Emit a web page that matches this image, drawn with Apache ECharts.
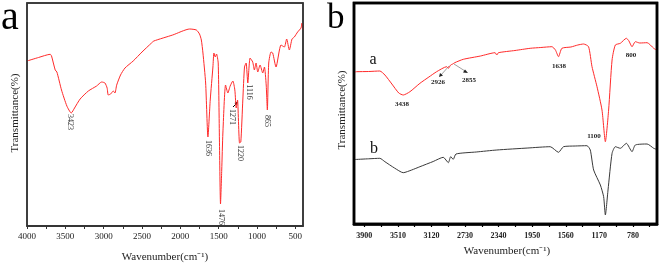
<!DOCTYPE html>
<html><head><meta charset="utf-8">
<script src="https://cdn.jsdelivr.net/npm/echarts@6/dist/echarts.min.js"></script>
<style>html,body{margin:0;padding:0;background:#fff}#c{width:661px;height:265px}</style>
</head><body><div id="c"></div>
<script>
// Panel a spectrum (wavenumber, transmittance in arbitrary units)
const waveA = [4000,3850,3697,3680,3632,3610,3550,3480,3423,3380,3307,3200,3092,3026,2983,2955,2940,2909,2875,2853,2830,2780,2722,2615,2500,2376,2346,2100,1878,1791,1750,1726,1705,1670,1640,1610,1575,1562,1545,1528,1506,1490,1476,1460,1445,1410,1380,1350,1315,1289,1271,1254,1228,1211,1185,1163,1142,1120,1090,1056,1034,1012,990,960,925,903,880,865,847,817,795,752,687,643,613,578,543,513,470,426,413,400];
const transA = [165,168.5,171.7,170,156,154,136,120,113,118,127,135,140,144,143,138,131,132,135,133,141,151,158,165,174,183,185,191,197,196,192,186,173,143,89,126,159,173,169,172,163,86,22,56,93,141,133,140,145,136,118,126,83,84,126,159,163,143,168,164,156,163,154,161,153,159,141,116,163,174,173,159,181,179,187,176,187,189,194,198,203,196];
// Panel b spectra
const waveB1 = [4010,3991,3850,3720,3661,3580,3500,3448,3370,3254,3150,3060,2943,2924,2897,2873,2850,2750,2550,2381,2361,2342,2150,1973,1850,1721,1680,1644,1605,1500,1420,1353,1295,1255,1197,1139,1100,1062,1022,984,926,856,828,790,752,700,615,538,507];
const transB1 = [152,152.3,152.5,153,149,140,131,129,132.3,140.7,147,152.3,157.3,155.7,159,160,161.3,164.7,168,171.3,169,171.3,173.5,175.7,176.5,177.3,174,167.3,175.7,177,179,180,177.3,157.3,137.3,114,82.3,114,164,179,180.7,185.7,183.3,177.3,182.3,181,181.3,175.7,174];
const waveB2 = [4010,3850,3720,3661,3550,3448,3350,3254,3100,2983,2924,2897,2867,2835,2600,2361,2000,1741,1644,1586,1450,1314,1275,1236,1158,1120,1100,1069,1022,984,926,856,790,752,615,538,507];
const transB2 = [64.5,65.2,65.7,62.3,56,51.3,54,57.3,62.5,66.7,61.3,67.3,64.7,70,72,74,76,77.3,71.7,77.3,78,78.3,74,54,39,27.3,9,34,70.7,77.3,75.7,80.7,72.3,79,80,75.7,74.7];
// Axis ticks and labels
const labelsA = [4000,3500,3000,2500,2000,1500,1000,500];
const ticksA = [4000,3750,3500,3250,3000,2750,2500,2250,2000,1750,1500,1250,1000,750,500];
const labelsB = [3900,3510,3120,2730,2340,1950,1560,1170,780];
const ticksB = [3900,3705,3510,3315,3120,2925,2730,2535,2340,2145,1950,1755,1560,1365,1170,975,780,585];
const peaksA = ['3423','1636','1476','1271','1220','1116','865'];

const zip = (w,t) => w.map((v,i)=>[v,t[i]]);
const serif = 'Liberation Serif';
const chart = echarts.init(document.getElementById('c'), null, {renderer:'canvas'});

function txt(x,y,s,opt){
  return {type:'text',x:x,y:y,style:Object.assign({text:s,fill:'#222',font:'8px '+serif,align:'center',verticalAlign:'middle'},opt||{})};
}
function rtxt(x,y,s){
  return {type:'text',x:x,y:y,rotation:-Math.PI/2,style:{text:s,fill:'#333',font:'8px '+serif,align:'center',verticalAlign:'middle'}};
}

const option = {
  animation:false,
  backgroundColor:'#fff',
  grid:[
    {left:27,top:3,width:276,height:223,show:true,borderColor:'#333',borderWidth:1.5,backgroundColor:'transparent'},
    {left:354,top:3,width:303,height:221,show:true,borderColor:'#000',borderWidth:2.5,backgroundColor:'transparent'}
  ],
  xAxis:[
    {gridIndex:0,type:'value',min:400,max:4000,inverse:true,
     axisLine:{show:true,onZero:false,lineStyle:{color:'#333',width:1.5}},
     axisTick:{show:true,inside:false,length:3,customValues:ticksA,lineStyle:{color:'#333'}},
     axisLabel:{customValues:labelsA,formatter:v=>String(v),fontFamily:serif,fontSize:9,color:'#222',margin:6},
     splitLine:{show:false}},
    {gridIndex:1,type:'value',min:500,max:4020,inverse:true,
     axisLine:{show:true,onZero:false,lineStyle:{color:'#000',width:2.5}},
     axisTick:{show:true,inside:false,length:3,customValues:ticksB,lineStyle:{color:'#000',width:1.2}},
     axisLabel:{customValues:labelsB,formatter:v=>String(v),fontFamily:serif,fontSize:8,fontWeight:'bold',color:'#222',margin:8},
     splitLine:{show:false}}
  ],
  yAxis:[
    {gridIndex:0,type:'value',min:0,max:223,show:false},
    {gridIndex:1,type:'value',min:0,max:221,show:false}
  ],
  series:[
    {type:'line',xAxisIndex:0,yAxisIndex:0,data:zip(waveA,transA),showSymbol:false,smooth:0.2,lineStyle:{color:'#ff2a2a',width:1},z:3},
    {type:'line',xAxisIndex:1,yAxisIndex:1,data:zip(waveB1,transB1),showSymbol:false,smooth:0.2,lineStyle:{color:'#ff2a2a',width:1},z:3},
    {type:'line',xAxisIndex:1,yAxisIndex:1,data:zip(waveB2,transB2),showSymbol:false,smooth:0.2,lineStyle:{color:'#3a3a3a',width:1},z:3}
  ],
  graphic:[
    {type:'rect',z:10,silent:true,shape:{x:27,y:3,width:276,height:223},style:{fill:'none',stroke:'#333',lineWidth:1.5}},
    {type:'rect',z:10,silent:true,shape:{x:354,y:3,width:303,height:221},style:{fill:'none',stroke:'#000',lineWidth:2.5}},
    {type:'text',x:1,y:38,style:{text:'a',fill:'#000',font:'40px '+serif,align:'left',verticalAlign:'bottom'}},
    {type:'text',x:327,y:36,style:{text:'b',fill:'#000',font:'35px '+serif,align:'left',verticalAlign:'bottom'}},
    txt(165,257,'Wavenumber(cm\u207B\u00B9)',{font:'11px '+serif}),
    txt(507,251,'Wavenumber(cm\u207B\u00B9)',{font:'11px '+serif}),
    {type:'text',x:15,y:113,rotation:Math.PI/2,style:{text:'Transmittance(%)',fill:'#222',font:'11px '+serif,align:'center',verticalAlign:'middle'}},
    {type:'text',x:342,y:110,rotation:Math.PI/2,style:{text:'Transmittance(%)',fill:'#222',font:'11px '+serif,align:'center',verticalAlign:'middle'}},
    rtxt(70,122,peaksA[0]), rtxt(208,148,peaksA[1]), rtxt(221.5,217,peaksA[2]),
    rtxt(232,117,peaksA[3]), rtxt(240.5,153,peaksA[4]), rtxt(249,92,peaksA[5]), rtxt(267.5,121,peaksA[6]),
    {type:'line',shape:{x1:233,y1:107,x2:237,y2:103},style:{stroke:'#000',lineWidth:1}},
    {type:'polygon',shape:{points:[[238,101.5],[234.5,103],[236.5,105]]},style:{fill:'#000'}},
    txt(373,60,'a',{font:'16px '+serif,fill:'#111'}),
    txt(374,149,'b',{font:'16px '+serif,fill:'#111'}),
    txt(402,104,'3438',{font:'bold 7px '+serif}),
    txt(438,82,'2926',{font:'bold 7px '+serif}),
    txt(469,80,'2855',{font:'bold 7px '+serif}),
    txt(559,66,'1638',{font:'bold 7px '+serif}),
    txt(594,136,'1100',{font:'bold 7px '+serif}),
    txt(631,55,'800',{font:'bold 7px '+serif}),
    {type:'line',shape:{x1:449,y1:66,x2:441,y2:75},style:{stroke:'#888',lineWidth:0.8}},
    {type:'polygon',shape:{points:[[439,77],[440,73],[443,75.5]]},style:{fill:'#222'}},
    {type:'line',shape:{x1:454,y1:64,x2:465,y2:71},style:{stroke:'#888',lineWidth:0.8}},
    {type:'polygon',shape:{points:[[468,73],[463,72.5],[465,69.5]]},style:{fill:'#222'}}
  ]
};
chart.setOption(option);
</script></body></html>
